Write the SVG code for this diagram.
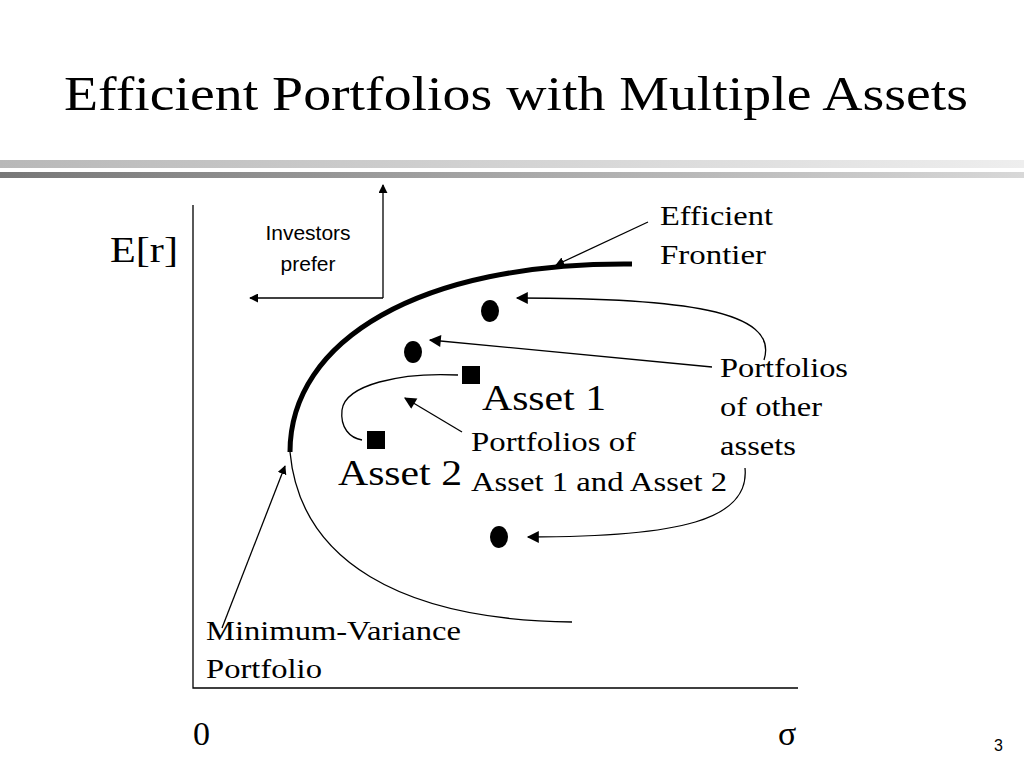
<svg xmlns="http://www.w3.org/2000/svg" width="1024" height="768" viewBox="0 0 1024 768">
<defs>
<linearGradient id="g1" x1="0" x2="1"><stop offset="0" stop-color="#b8b8b8"/><stop offset="1" stop-color="#eeeeee"/></linearGradient>
<linearGradient id="g2" x1="0" x2="1"><stop offset="0" stop-color="#777"/><stop offset="1" stop-color="#d8d8d8"/></linearGradient>
<marker id="ar" viewBox="0 0 10 10" refX="9" refY="5" markerWidth="9" markerHeight="9" markerUnits="userSpaceOnUse" orient="auto"><path d="M0,0L10,5L0,10z" fill="#000"/></marker>
<marker id="arb" viewBox="0 0 10 10" refX="9" refY="5" markerWidth="14" markerHeight="12" markerUnits="userSpaceOnUse" orient="auto"><path d="M0,0L10,5L0,10z" fill="#000"/></marker>
</defs>
<style>
.s{font-family:"Liberation Serif",serif;fill:#000}
.a{font-family:"Liberation Sans",sans-serif;fill:#000}
.l{fill:none;stroke:#000;stroke-width:1.3}
</style>
<rect width="1024" height="768" fill="#fff"/>
<text class="s" x="64" y="110" font-size="48" textLength="904" lengthAdjust="spacingAndGlyphs">Efficient Portfolios with Multiple Assets</text>
<rect x="0" y="160" width="1024" height="8" fill="url(#g1)"/>
<rect x="0" y="172" width="1024" height="6" fill="url(#g2)"/>
<g id="axes">
<path class="l" d="M193,205V688H798"/>
<text class="s" x="110" y="262" font-size="36" textLength="68" lengthAdjust="spacingAndGlyphs">E[r]</text>
<text class="s" x="193" y="745" font-size="34">0</text>
<text class="s" x="778" y="745" font-size="34">σ</text>
</g>
<g id="frontier">
<path d="M290,452C290,340 420,262 632,264" fill="none" stroke="#000" stroke-width="5"/>
<path class="l" d="M290,452C300,560 400,620 572,622"/>
<text class="s" x="660" y="225" font-size="27" textLength="113" lengthAdjust="spacingAndGlyphs">Efficient</text>
<text class="s" x="660" y="264" font-size="27" textLength="106" lengthAdjust="spacingAndGlyphs">Frontier</text>
</g>
<g id="investors">
<text class="a" x="308" y="240" font-size="21" text-anchor="middle">Investors</text>
<text class="a" x="308" y="271" font-size="21" text-anchor="middle">prefer</text>
</g>
<g id="points">
<ellipse cx="490" cy="311" rx="9" ry="11"/>
<ellipse cx="413" cy="352" rx="9" ry="11"/>
<ellipse cx="499" cy="537" rx="9" ry="11"/>
<rect x="462" y="366" width="18" height="18"/>
<rect x="367" y="431" width="18" height="18"/>
<text class="s" x="482" y="410" font-size="36" textLength="124" lengthAdjust="spacingAndGlyphs">Asset 1</text>
<text class="s" x="338" y="485" font-size="36" textLength="124" lengthAdjust="spacingAndGlyphs">Asset 2</text>
<text class="s" x="471" y="451" font-size="27" textLength="165" lengthAdjust="spacingAndGlyphs">Portfolios of</text>
<text class="s" x="471" y="491" font-size="27" textLength="256" lengthAdjust="spacingAndGlyphs">Asset 1 and Asset 2</text>
<text class="s" x="720" y="377" font-size="27" textLength="128" lengthAdjust="spacingAndGlyphs">Portfolios</text>
<text class="s" x="720" y="416" font-size="27" textLength="102" lengthAdjust="spacingAndGlyphs">of other</text>
<text class="s" x="720" y="455" font-size="27" textLength="76" lengthAdjust="spacingAndGlyphs">assets</text>
<text class="s" x="206" y="640" font-size="27" textLength="255" lengthAdjust="spacingAndGlyphs">Minimum-Variance</text>
<text class="s" x="206" y="678" font-size="27" textLength="116" lengthAdjust="spacingAndGlyphs">Portfolio</text>
<text class="a" x="1003" y="751" font-size="16" text-anchor="end">3</text>
</g>
<g id="connectors">
<path class="l" d="M383,298V185" marker-end="url(#ar)"/>
<path class="l" d="M383,298H250" marker-end="url(#ar)"/>
<path class="l" d="M648,222L556,265" marker-end="url(#ar)"/>
<path class="l" d="M764,360C780,310 680,298 517,298" marker-end="url(#arb)"/>
<path class="l" d="M712,367L430,340" marker-end="url(#arb)"/>
<path class="l" d="M745,468C750,520 680,537 528,537" marker-end="url(#arb)"/>
<path class="l" d="M458,375C400,372 345,385 342,410C340,428 350,438 362,440"/>
<path class="l" d="M462,432L405,398" marker-end="url(#arb)"/>
<path class="l" d="M222,628L285,466" marker-end="url(#ar)"/>
</g>
</svg>
